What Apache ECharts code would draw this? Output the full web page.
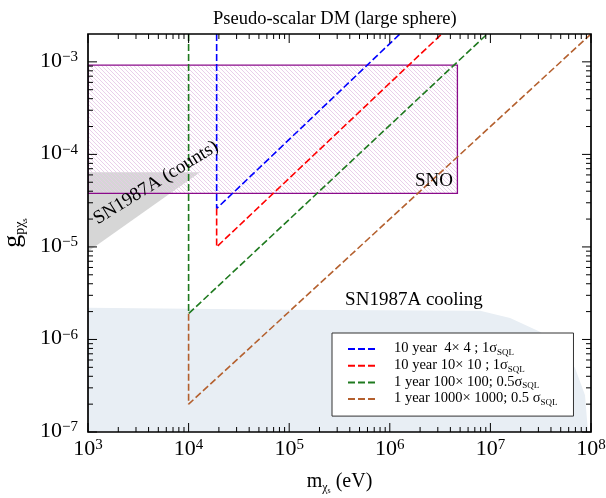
<!DOCTYPE html>
<html>
<head>
<meta charset="utf-8">
<script src="https://cdn.jsdelivr.net/npm/echarts@6/dist/echarts.min.js"></script>
<style>
  html, body { margin: 0; padding: 0; background: #fff; }
  #chart { width: 606px; height: 498px; }
</style>
</head>
<body>
<div id="chart"></div>
<script>
const serif = 'Liberation Serif'

// axis ranges and ticks
const xMin = 1e3, xMax = 1e8
const yMin = 1e-7, yMax = 2e-3
const xDecades = [1e3, 1e4, 1e5, 1e6, 1e7, 1e8]
const yDecades = [1e-7, 1e-6, 1e-5, 1e-4, 1e-3]
const minorSteps = [2, 3, 4, 5, 6, 7, 8, 9]

// projected reach, points are [m (eV), g]
const seriesNames = ['10 year  4× 4 ; 1σ', '10 year 10× 10 ; 1σ', '1 year 100× 100; 0.5σ', '1 year 1000× 1000; 0.5 σ']
const seriesColors = ['#0000ff', '#ff0000', '#1f7a1f', '#b4602e']
const blueCurve = [[1.9e4, 2e-3], [1.9e4, 2.6e-5], [1.26e6, 2e-3]]
const redCurve = [[1.9e4, 2.6e-5], [1.9e4, 1e-5], [3.28e6, 2e-3]]
const greenCurve = [[1e4, 2e-3], [1e4, 1.9e-6], [9.3e6, 2e-3]]
const brownCurve = [[1e4, 1.9e-6], [1e4, 2e-7], [1e8, 2e-3]]

// excluded regions
const snoRegion = [[1e3, 9.2e-4], [4.7e6, 9.2e-4], [4.7e6, 3.8e-5], [1e3, 3.8e-5]]
const countsRegion = [[1e3, 6.4e-5], [1.3e4, 6.4e-5], [1e3, 8.9e-6]]
const coolingRegion = [[1e3, 1e-7], [1e3, 2.2e-6], [1e5, 2.1e-6], [7.9e6, 2.04e-6], [1.57e7, 1.71e-6],
  [3.11e7, 1.21e-6], [4.92e7, 8.1e-7], [6.94e7, 4.93e-7], [8.71e7, 2.51e-7], [9.34e7, 1e-7]]

// text labels in the plot
const notes = [
  { text: 'SNO', at: [2.75e6, 5.2e-5], angle: 0 },
  { text: 'SN1987A cooling', at: [1.74e6, 2.68e-6], angle: 0 },
  { text: 'SN1987A (counts)', at: [4.74e3, 4.94e-5], angle: 31.7 }
]

function hatch() {
  const c = document.createElement('canvas')
  c.width = 4; c.height = 4
  const ctx = c.getContext('2d')
  ctx.strokeStyle = '#e6cbe8'
  ctx.lineWidth = 0.9
  ctx.beginPath()
  ctx.moveTo(-1, -1); ctx.lineTo(5, 5)
  ctx.moveTo(-1, 3); ctx.lineTo(1, 5)
  ctx.moveTo(3, -1); ctx.lineTo(5, 1)
  ctx.stroke()
  return c
}

function region(points, style, z) {
  return {
    type: 'custom', z: z, silent: true, clip: true,
    data: [[xMin, yMin]],
    renderItem: function (params, api) {
      return { type: 'polygon', shape: { points: points.map(p => api.coord(p)) }, style: style }
    }
  }
}

function powLabel(v) {
  const e = Math.log10(v), n = Math.round(e)
  if (Math.abs(e - n) > 1e-6) return ''
  return '{b|10}{p|' + String(n).replace('-', '−') + '}'
}

const labelRich = {
  b: { fontFamily: serif, fontSize: 22, lineHeight: 24, verticalAlign: 'top', color: '#000' },
  p: { fontFamily: serif, fontSize: 15, lineHeight: 15, verticalAlign: 'top', color: '#000' }
}

const curves = [blueCurve, redCurve, greenCurve, brownCurve]
const lineSeries = curves.map((c, i) => ({
  type: 'line', name: seriesNames[i], data: c, symbol: 'none', z: 5,
  lineStyle: { color: seriesColors[i], width: 1.6, type: [7, 3] },
  itemStyle: { color: seriesColors[i] }
}))

const tickSeries = {
  type: 'custom', z: 6, silent: true, clip: false,
  data: [[xMin, yMin]],
  renderItem: function (params, api) {
    const cs = params.coordSys
    const kids = []
    const add = (x1, y1, x2, y2) => kids.push({ type: 'line', shape: { x1, y1, x2, y2 }, style: { stroke: '#000', lineWidth: 1 } })
    const top = cs.y, bottom = cs.y + cs.height, left = cs.x, right = cs.x + cs.width
    const xTick = (v, len) => { const px = api.coord([v, yMin])[0]; add(px, bottom, px, bottom - len); add(px, top, px, top + len) }
    const yTick = (v, len) => { const py = api.coord([xMin, v])[1]; add(left, py, left + len, py); add(right, py, right - len, py) }
    xDecades.forEach((d, i) => {
      xTick(d, 9)
      if (i < xDecades.length - 1) minorSteps.forEach(k => xTick(d * k, 5))
    })
    yDecades.forEach(d => {
      yTick(d, 9)
      minorSteps.forEach(k => { if (d * k < yMax * 0.999) yTick(d * k, 5) })
    })
    return { type: 'group', children: kids }
  }
}

const noteSeries = {
  type: 'custom', z: 7, silent: true, clip: false,
  data: notes.map(n => n.at),
  renderItem: function (params, api) {
    const n = notes[params.dataIndex]
    const p = api.coord(n.at)
    return {
      type: 'text', x: p[0], y: p[1], rotation: n.angle * Math.PI / 180,
      style: { text: n.text, fill: '#000', fontFamily: serif, fontSize: 19, align: 'center', verticalAlign: 'middle' }
    }
  }
}

const chart = echarts.init(document.getElementById('chart'))
chart.setOption({
  animation: false,
  backgroundColor: '#fff',
  title: {
    text: 'Pseudo-scalar DM (large sphere)', left: 208, top: 5,
    textStyle: { fontFamily: serif, fontSize: 18.5, fontWeight: 'normal', color: '#000' }
  },
  grid: {
    left: 88, right: 15, top: 34, bottom: 66, outerBoundsMode: 'none', containLabel: false,
    show: true, borderColor: '#000', borderWidth: 1.7, z: 8
  },
  legend: {
    left: 332, top: 333, orient: 'vertical', z: 10,
    backgroundColor: '#fff', borderColor: '#333', borderWidth: 1, borderRadius: 0,
    padding: [8, 16, 9, 15], itemWidth: 28, itemHeight: 14, itemGap: 0.7,
    itemStyle: { color: 'rgba(0,0,0,0)', borderWidth: 0, opacity: 0 },
    data: seriesNames,
    formatter: name => '{t|' + name + '}{s|SQL}',
    textStyle: {
      color: '#000', padding: [0, 0, 0, 13],
      rich: {
        t: { fontFamily: serif, fontSize: 14.5, lineHeight: 16, verticalAlign: 'top', color: '#000' },
        s: { fontFamily: serif, fontSize: 9, lineHeight: 9, padding: [7, 0, 0, 0], verticalAlign: 'top', color: '#000' }
      }
    }
  },
  xAxis: {
    type: 'log', logBase: 10, min: xMin, max: xMax,
    axisLine: { show: false }, axisTick: { show: false }, splitLine: { show: false },
    axisLabel: { formatter: powLabel, margin: 6, rich: labelRich },
    name: '{m|m}{s|χ}{ss|s}{m| (eV)}', nameLocation: 'middle', nameGap: 40,
    nameTextStyle: {
      rich: {
        m: { fontFamily: serif, fontSize: 20, lineHeight: 22, verticalAlign: 'top', color: '#000' },
        s: { fontFamily: serif, fontSize: 12, lineHeight: 12, padding: [10, 0, 0, 0], verticalAlign: 'top', color: '#000' },
        ss: { fontFamily: serif, fontSize: 8, lineHeight: 8, padding: [15, 0, 0, 0], verticalAlign: 'top', color: '#000' }
      }
    }
  },
  yAxis: {
    type: 'log', logBase: 10, min: yMin, max: yMax,
    axisLine: { show: false }, axisTick: { show: false }, splitLine: { show: false },
    axisLabel: { formatter: powLabel, margin: 10, rich: labelRich },
    name: '{g|g}{s|pχ}{ss|s}', nameLocation: 'middle', nameGap: 50,
    nameTextStyle: {
      rich: {
        g: { fontFamily: serif, fontSize: 26, lineHeight: 26, verticalAlign: 'top', color: '#000' },
        s: { fontFamily: serif, fontSize: 14, lineHeight: 14, padding: [13, 0, 0, 0], verticalAlign: 'top', color: '#000' },
        ss: { fontFamily: serif, fontSize: 9, lineHeight: 9, padding: [20, 0, 0, 0], verticalAlign: 'top', color: '#000' }
      }
    }
  },
  series: [
    region(coolingRegion, { fill: '#e8eef4' }, 1),
    region(countsRegion, { fill: '#d6d6d6' }, 2),
    region(snoRegion, { fill: { image: hatch(), repeat: 'repeat' }, stroke: '#8a0a8a', lineWidth: 1.3 }, 3),
    ...lineSeries,
    tickSeries,
    noteSeries
  ]
})
</script>
</body>
</html>
